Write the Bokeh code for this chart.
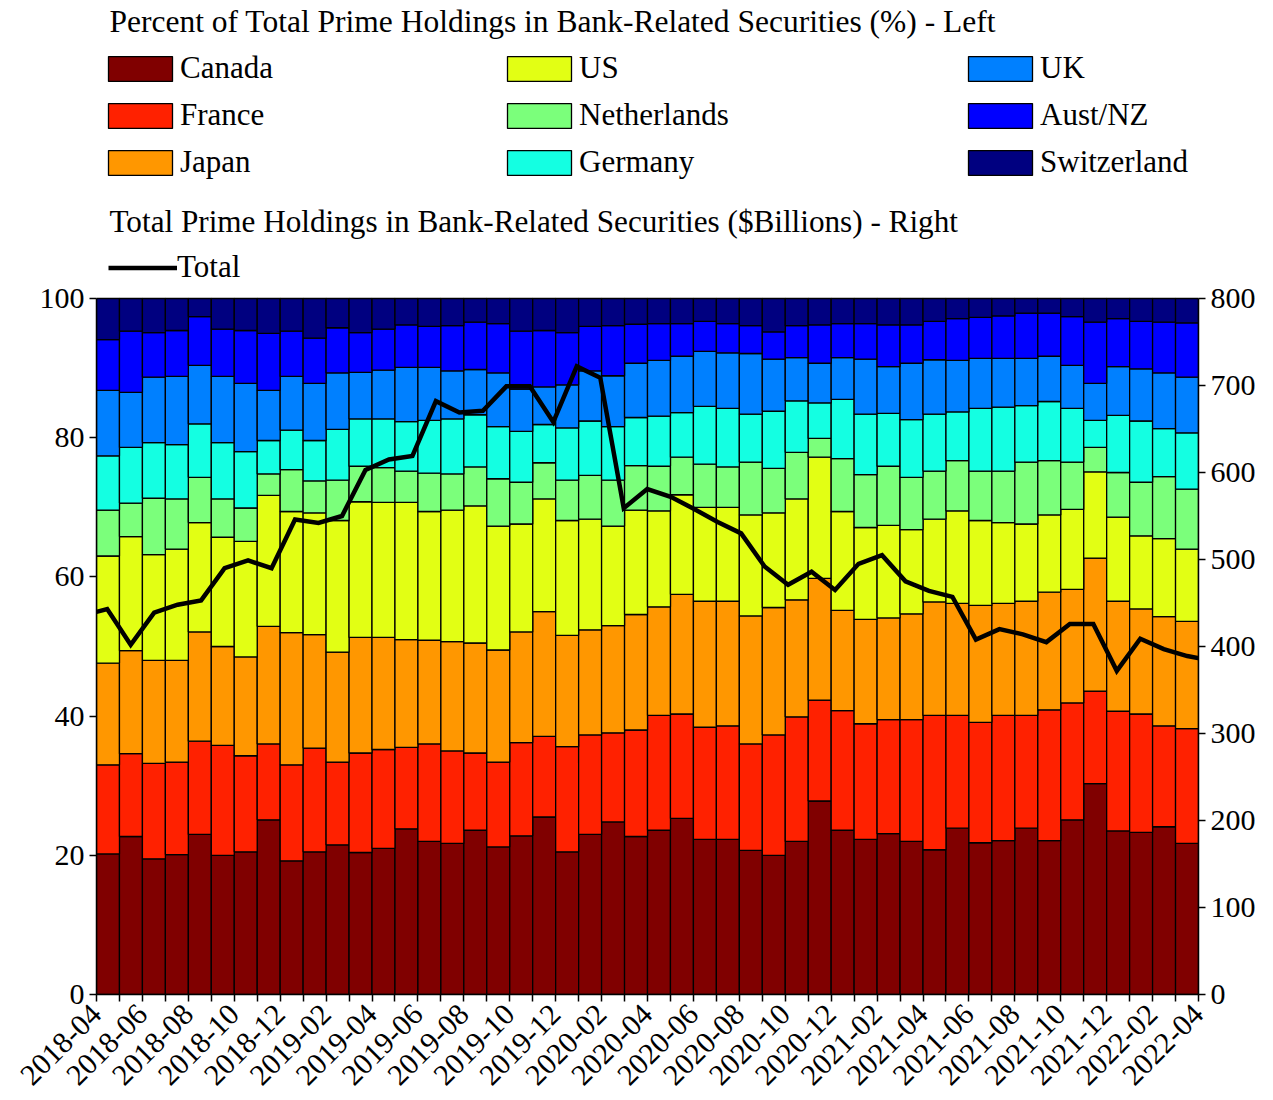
import math
from bokeh.plotting import figure
from bokeh.models import (ColumnDataSource, Range1d, LinearAxis, FixedTicker,
                          Legend, LegendItem, Label)
from bokeh.embed import file_html
from bokeh.resources import INLINE

countries = ["Canada", "France", "Japan", "US", "Netherlands", "Germany", "UK", "Aust/NZ", "Switzerland"]
colors = ["#800000", "#ff2100", "#ff9700", "#e2ff14", "#7bff7b", "#14ffe2", "#0080ff", "#0000ff", "#000080"]

canada = [20.2, 22.7, 19.5, 20.1, 23.0, 20.0, 20.5, 25.1, 19.2, 20.5,
          21.5, 20.4, 21.0, 23.8, 22.0, 21.7, 23.6, 21.2, 22.8, 25.5,
          20.5, 23.0, 24.8, 22.7, 23.6, 25.3, 22.3, 22.3, 20.7, 20.0,
          22.0, 27.8, 23.6, 22.3, 23.1, 22.0, 20.8, 23.9, 21.8, 22.1,
          23.9, 22.1, 25.1, 30.3, 23.5, 23.3, 24.1, 21.7]
france = [12.8, 11.9, 13.7, 13.3, 13.4, 15.8, 13.8, 10.9, 13.8, 14.9,
          11.9, 14.3, 14.2, 11.7, 14.0, 13.3, 11.1, 12.2, 13.4, 11.6,
          15.1, 14.3, 12.8, 15.3, 16.5, 15.0, 16.1, 16.3, 15.3, 17.3,
          17.9, 14.5, 17.2, 16.6, 16.4, 17.5, 19.3, 16.2, 17.3, 18.0,
          16.2, 18.8, 16.8, 13.3, 17.2, 17.0, 14.5, 16.5]
japan = [14.6, 14.8, 14.8, 14.6, 15.7, 14.2, 14.2, 16.9, 19.0, 16.3,
         15.8, 16.6, 16.1, 15.5, 14.9, 15.7, 15.8, 16.1, 15.9, 17.9,
         16.0, 15.1, 15.4, 16.6, 15.6, 17.2, 18.1, 17.9, 18.4, 18.3,
         16.8, 17.5, 14.4, 15.0, 14.6, 15.2, 16.3, 16.1, 16.8, 16.1,
         16.4, 16.9, 16.3, 19.1, 15.8, 15.1, 15.7, 15.4]
us = [15.4, 16.4, 15.2, 16.0, 15.7, 15.7, 16.6, 18.8, 17.4, 17.5,
      18.9, 19.5, 19.4, 19.7, 18.5, 18.9, 19.7, 17.8, 15.5, 16.2,
      16.5, 15.9, 14.3, 15.0, 13.8, 14.3, 13.5, 13.5, 14.5, 13.6,
      14.5, 17.4, 14.2, 13.2, 13.3, 12.1, 11.9, 13.3, 12.2, 11.6,
      11.1, 11.1, 11.5, 12.4, 12.1, 10.5, 11.2, 10.4]
netherlands = [6.6, 4.8, 8.1, 7.2, 6.5, 5.5, 4.8, 3.1, 6.0, 4.6,
               5.8, 5.1, 5.0, 4.5, 5.5, 5.2, 5.6, 6.8, 6.0, 5.2,
               5.8, 6.3, 6.6, 6.4, 6.4, 5.4, 6.2, 5.8, 7.6, 6.4,
               6.7, 2.7, 7.6, 7.6, 8.5, 7.5, 6.9, 7.2, 7.1, 7.4,
               8.9, 7.8, 6.8, 3.5, 6.4, 7.7, 8.9, 8.6]
germany = [7.8, 8.0, 8.0, 7.8, 7.7, 8.1, 8.1, 4.8, 5.7, 5.8,
           7.3, 6.8, 7.0, 7.1, 7.6, 7.9, 7.5, 7.5, 7.3, 5.5,
           7.5, 7.8, 7.7, 6.9, 7.2, 6.4, 8.3, 8.4, 6.9, 8.2,
           7.4, 5.1, 8.5, 8.7, 7.6, 8.3, 8.2, 7.0, 9.0, 9.2,
           8.1, 8.5, 7.7, 3.9, 8.2, 8.8, 6.9, 8.1]
uk = [9.4, 7.9, 9.4, 9.8, 8.4, 9.5, 9.8, 7.2, 7.7, 8.2,
      8.1, 6.7, 7.0, 7.8, 7.6, 6.9, 6.5, 7.7, 6.1, 5.4,
      6.2, 7.2, 7.3, 7.8, 8.0, 8.1, 7.9, 8.0, 8.7, 7.5,
      6.2, 5.7, 6.0, 7.9, 6.7, 8.1, 7.8, 7.4, 7.2, 7.0,
      6.8, 6.5, 6.2, 5.3, 7.0, 7.5, 8.0, 8.0]
aust_nz = [7.3, 8.8, 6.4, 6.6, 7.0, 6.8, 7.6, 8.2, 6.5, 6.5,
           6.5, 5.7, 5.9, 6.1, 5.9, 6.5, 6.8, 7.1, 8.3, 8.1,
           7.5, 6.4, 7.2, 5.6, 5.3, 4.7, 4.3, 4.2, 4.0, 3.9,
           4.6, 5.5, 4.9, 5.1, 6.0, 5.5, 5.5, 6.0, 5.9, 6.1,
           6.5, 6.2, 7.0, 8.8, 6.9, 6.8, 7.3, 7.8]
switzerland = [5.9, 4.7, 4.9, 4.6, 2.6, 4.4, 4.6, 5.0, 4.7, 5.7,
               4.2, 4.9, 4.4, 3.8, 4.0, 3.9, 3.4, 3.6, 4.7, 4.6,
               4.9, 4.0, 3.9, 3.7, 3.6, 3.6, 3.3, 3.6, 3.9, 4.8,
               3.9, 3.8, 3.6, 3.6, 3.8, 3.8, 3.3, 2.9, 2.7, 2.5,
               2.1, 2.1, 2.6, 3.4, 2.9, 3.3, 3.4, 3.5]

total = [436, 443, 402, 439, 448, 453, 490, 499, 490, 546,
         542, 550, 603, 615, 619, 682, 669, 671, 699, 699,
         658, 722, 709, 559, 581, 572, 558, 543, 530, 492,
         471, 486, 465, 495, 505, 475, 464, 457, 408, 420,
         414, 405, 426, 426, 372, 409, 397, 389, 384]

tick_labels = ["2018-04", "2018-06", "2018-08", "2018-10", "2018-12",
               "2019-02", "2019-04", "2019-06", "2019-08", "2019-10", "2019-12",
               "2020-02", "2020-04", "2020-06", "2020-08", "2020-10", "2020-12",
               "2021-02", "2021-04", "2021-06", "2021-08", "2021-10", "2021-12",
               "2022-02", "2022-04"]

series = [canada, france, japan, us, netherlands, germany, uk, aust_nz, switzerland]
n_bars = len(canada)

FONT = "Liberation Serif"

# layout (pixels)
FRAME_W, FRAME_H = 1102, 986
PLOT_H = 696  # pixels from 0 to 100 %
y_top = 100.0 * FRAME_H / PLOT_H

data = {"x": [i + 0.5 for i in range(n_bars)]}
for name, vals in zip(countries, series):
    data[name] = vals
source = ColumnDataSource(data)

p = figure(frame_width=FRAME_W, frame_height=FRAME_H,
           x_range=Range1d(0, n_bars), y_range=Range1d(0, y_top),
           output_backend="svg", toolbar_location=None,
           min_border_left=96, min_border_right=75, min_border_top=8, min_border_bottom=90)
p.outline_line_color = None
p.xgrid.visible = False
p.ygrid.visible = False
p.background_fill_color = "white"
p.border_fill_color = "white"

p.extra_y_ranges = {"total": Range1d(0, 800.0 * y_top / 100.0)}
p.extra_x_ranges = {"line_x": Range1d(0.544, 47.48)}

bars = p.vbar_stack(countries, x="x", width=1.0, source=source, fill_color=colors,
                    line_color="black", line_width=1.3)

line_src = ColumnDataSource({"k": list(range(len(total))), "total": total})
line = p.line(x="k", y="total", source=line_src, x_range_name="line_x", y_range_name="total",
              line_color="black", line_width=4.5, line_join="miter")

# axes
def style_axis(ax):
    ax.major_label_text_font = FONT
    ax.major_label_text_font_size = "30px"
    ax.major_label_text_color = "black"
    ax.axis_line_color = "black"
    ax.axis_line_width = 1.5
    ax.major_tick_line_color = "black"
    ax.major_tick_line_width = 1.5
    ax.major_tick_out = 7
    ax.major_tick_in = 0
    ax.minor_tick_line_color = None

yax = p.yaxis[0]
yax.ticker = FixedTicker(ticks=[0, 20, 40, 60, 80, 100])
yax.bounds = (0, 100)
style_axis(yax)

rax = LinearAxis(y_range_name="total", ticker=FixedTicker(ticks=list(range(0, 801, 100))), bounds=(0, 800))
style_axis(rax)
p.add_layout(rax, "right")

xax = p.xaxis[0]
xax.ticker = FixedTicker(ticks=list(range(0, n_bars + 1)))
overrides = {i: "" for i in range(0, n_bars + 1)}
for j, lab in enumerate(tick_labels):
    overrides[2 * j] = lab
xax.major_label_overrides = overrides
xax.major_label_orientation = math.pi / 4
xax.major_label_standoff = 8
style_axis(xax)

# legends
def make_legend(items, loc, gw, gh, spacing):
    lg = Legend(items=items, location=loc, padding=0, margin=0, spacing=spacing,
                glyph_width=gw, glyph_height=gh, label_height=gh, label_standoff=0,
                label_text_font=FONT, label_text_font_size="31px", label_text_color="black",
                border_line_color=None, background_fill_alpha=0)
    return lg

cols = [[0, 1, 2], [3, 4, 5], [6, 7, 8]]
col_x = [4, 403, 864]
for cx, idxs in zip(col_x, cols):
    items = [LegendItem(label=countries[i], renderers=[bars[i]]) for i in idxs]
    p.add_layout(make_legend(items, (cx, 814), 80, 31, 11), "center")

p.add_layout(make_legend([LegendItem(label="Total", renderers=[line])], (12, 709), 69, 31, 0), "center")

t1 = Label(x=13, y=973, x_units="screen", y_units="screen",
           text="Percent of Total Prime Holdings in Bank-Related Securities (%) - Left",
           text_font=FONT, text_font_size="31.5px", text_color="black", text_baseline="middle")
t2 = Label(x=13, y=773, x_units="screen", y_units="screen",
           text="Total Prime Holdings in Bank-Related Securities ($Billions) - Right",
           text_font=FONT, text_font_size="31.2px", text_color="black", text_baseline="middle")
p.add_layout(t1)
p.add_layout(t2)

open("out.html", "w").write(file_html(p, INLINE))
